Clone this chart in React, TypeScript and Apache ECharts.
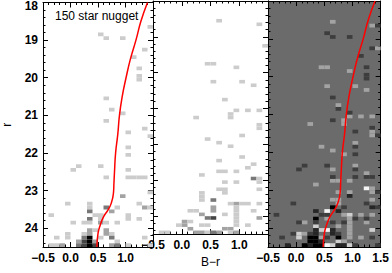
import React, { useEffect, useRef } from 'react';
import * as echarts from 'echarts';

// Axis ranges and ticks
const colorRange = [-0.5, 1.5];
const magRange = [18, 24.5];
const colorStep = 0.5;
const magStep = 1;
const colorBin = 0.1;
const magBin = 0.1;

const panelTitle = '150 star nugget';
const xTitle = 'B\u2212r';
const yTitle = 'r';

// Hess-diagram cells: [B−r bin start, r bin start, star count]
const nuggetCells: number[][] = [
  [0.5, 18.8, 1], [0.6, 18.9, 1], [0.9, 18.9, 1], [1.4, 18.6, 1], [1.3, 19.2, 1],
  [1.1, 19.4, 1], [1.2, 19.7, 1], [1.2, 19.9, 1], [1.2, 20.0, 1], [0.6, 20.5, 1],
  [0.7, 20.8, 1], [0.9, 20.9, 1], [0.6, 21.1, 1], [1.3, 21.3, 1], [1.0, 21.4, 1],
  [1.4, 21.5, 1], [1.0, 21.8, 1], [1.0, 22.0, 1], [0.1, 22.3, 1], [0.5, 22.3, 1],
  [0.0, 22.4, 1], [1.0, 22.4, 1],
  [0.6, 22.6, 1], [1.0, 22.6, 1], [1.1, 22.6, 1], [1.2, 22.6, 1], [1.3, 22.6, 1],
  [0.9, 23.1, 2], [1.4, 23.0, 1],
  [-0.1, 23.3, 1], [0.3, 23.3, 1], [1.2, 23.3, 1],
  [0.3, 23.4, 1], [0.6, 23.4, 3], [0.8, 23.4, 1], [1.3, 23.4, 2], [1.4, 23.4, 1],
  [0.3, 23.5, 3], [0.7, 23.5, 2],
  [-0.4, 23.6, 1], [0.4, 23.6, 1], [0.5, 23.6, 1], [1.0, 23.6, 1],
  [0.3, 23.7, 3], [0.5, 23.7, 1], [1.0, 23.7, 1], [1.2, 23.7, 1],
  [0.0, 23.8, 1], [0.2, 23.8, 1], [0.3, 23.8, 1], [0.5, 23.8, 2], [0.6, 23.8, 1], [0.8, 23.8, 1],
  [0.3, 24.0, 2], [0.4, 24.0, 1], [0.6, 24.0, 2],
  [-0.1, 24.1, 1], [0.2, 24.1, 1], [0.3, 24.1, 2], [0.6, 24.1, 2], [0.7, 24.1, 1],
  [-0.3, 24.2, 1], [-0.1, 24.2, 1], [0.2, 24.2, 3], [0.3, 24.2, 5], [0.5, 24.2, 1], [0.7, 24.2, 3], [1.3, 24.2, 1],
  [0.1, 24.3, 2], [0.2, 24.3, 4], [0.3, 24.3, 5], [0.4, 24.3, 2], [0.8, 24.3, 1],
  [-0.4, 24.4, 1], [-0.3, 24.4, 1], [-0.2, 24.4, 2], [0.1, 24.4, 3], [0.2, 24.4, 4], [0.3, 24.4, 5],
  [0.4, 24.4, 4], [0.7, 24.4, 2], [0.8, 24.4, 3], [1.0, 24.4, 1], [1.4, 24.4, 1],
];

const modelCells: number[][] = [
  [0.6, 18.5, 1], [1.3, 18.6, 1], [1.4, 19.2, 1], [0.4, 19.7, 1], [0.5, 19.7, 1],
  [0.9, 19.8, 1], [0.5, 20.2, 1], [1.0, 20.2, 1], [1.2, 20.3, 1], [0.7, 20.7, 1],
  [0.9, 21.0, 1], [1.1, 21.0, 1], [1.3, 21.0, 1], [0.2, 21.2, 1], [0.8, 21.1, 1],
  [0.8, 21.2, 1], [1.3, 21.4, 1], [1.3, 21.5, 1],
  [0.4, 21.8, 1], [1.0, 21.7, 1], [0.6, 21.9, 1], [0.8, 22.0, 1], [1.0, 22.3, 1],
  [0.6, 22.4, 1], [1.1, 22.6, 1], [1.2, 22.5, 1],
  [0.3, 22.8, 1], [0.6, 22.7, 1], [0.7, 22.7, 1], [0.9, 22.7, 1],
  [1.2, 22.9, 3], [1.3, 22.9, 1], [1.3, 23.0, 1], [0.7, 23.0, 1], [0.9, 23.0, 1],
  [0.6, 23.2, 1], [0.7, 23.2, 1], [1.3, 23.2, 1], [0.7, 23.3, 1],
  [0.3, 23.3, 1], [0.3, 23.4, 1], [0.3, 23.5, 1], [0.5, 23.5, 3],
  [0.8, 23.6, 1], [0.9, 23.6, 2], [1.0, 23.6, 1], [1.1, 23.6, 1], [1.3, 23.6, 1],
  [0.9, 23.7, 1], [0.5, 23.7, 2],
  [0.1, 23.8, 1], [0.2, 23.8, 1], [0.5, 23.8, 2], [0.9, 23.8, 1], [1.2, 23.8, 1],
  [0.3, 23.9, 2], [0.7, 23.9, 1], [0.9, 23.9, 1],
  [0.4, 24.0, 3], [0.5, 24.0, 4], [0.9, 24.0, 1], [1.3, 24.0, 2],
  [0.0, 24.1, 2], [0.1, 24.1, 1], [0.9, 24.1, 1],
  [-0.1, 24.2, 1], [0.0, 24.2, 2], [0.3, 24.2, 1], [0.4, 24.2, 1], [0.9, 24.2, 1], [1.1, 24.2, 1],
  [0.1, 24.3, 2], [0.7, 24.3, 2], [0.8, 24.3, 2],
  [-0.4, 24.4, 1], [-0.3, 24.4, 1], [0.2, 24.4, 2], [0.3, 24.4, 2], [0.4, 24.4, 1],
  [0.5, 24.4, 3], [0.6, 24.4, 2], [0.8, 24.4, 1], [0.9, 24.4, 2],
];

// Isochrone track: [B−r, r]
const isochrone: number[][] = [
  [1.40, 18.0], [1.28, 18.5], [1.19, 19.0], [1.09, 19.5], [1.01, 20.0], [0.94, 20.5],
  [0.89, 21.0], [0.86, 21.5], [0.82, 22.0], [0.80, 22.5], [0.79, 22.8], [0.78, 23.08],
  [0.74, 23.34], [0.68, 23.52], [0.60, 23.70], [0.54, 23.92], [0.50, 24.14], [0.48, 24.5],
];

// Residual panel = model − nugget
const key = (c: number, m: number) => `${Math.round(c * 10)}|${Math.round(m * 10)}`;
function residualCells(): number[][] {
  const map = new Map<string, number[]>();
  modelCells.forEach(([c, m, v]) => map.set(key(c, m), [c, m, v]));
  nuggetCells.forEach(([c, m, v]) => {
    const k = key(c, m);
    const e = map.get(k);
    if (e) e[2] -= v;
    else map.set(k, [c, m, -v]);
  });
  return Array.from(map.values()).filter((d) => d[2] !== 0);
}

const countGray = ['#ffffff', '#cccccc', '#a3a3a3', '#787878', '#444444', '#000000'];
const countColor = (v: number) => countGray[Math.max(0, Math.min(5, Math.round(v)))];
const residColor = (v: number) => {
  if (v <= -3) return '#000000';
  if (v === -2) return '#262626';
  if (v === -1) return '#3d3d3d';
  if (v === 1) return '#a3a3a3';
  if (v === 2) return '#cfcfcf';
  return '#f5f5f5';
};

const FONT = 'Liberation Sans, Arial, Helvetica, sans-serif';

const cellRenderer = (colorFn: (v: number) => string) => (params: any, api: any) => {
  const c = api.value(0);
  const m = api.value(1);
  const v = api.value(2);
  const p0 = api.coord([c, m]);
  const p1 = api.coord([c + colorBin, m + magBin]);
  return {
    type: 'rect',
    shape: {
      x: Math.min(p0[0], p1[0]),
      y: Math.min(p0[1], p1[1]),
      width: Math.abs(p1[0] - p0[0]),
      height: Math.abs(p1[1] - p0[1]),
    },
    style: { fill: colorFn(v) },
  };
};

const fmtColor = (v: number) => (v < 0 ? '\u2212' : '') + Math.abs(v).toFixed(1);

export default function App() {
  const ref = useRef<HTMLDivElement>(null);
  useEffect(() => {
    document.body.style.margin = '0';
    if (!ref.current) return;
    const chart = echarts.init(ref.current, null, { renderer: 'svg' });

    const grids = [
      { left: 37, top: 1, width: 116, height: 246 },
      { left: 153, top: 1, width: 115, height: 246 },
      { left: 268, top: 1, width: 115, height: 246, show: true, backgroundColor: '#6b6b6b', borderWidth: 0 },
    ];

    const tickCommon = {
      axisLine: { show: true, onZero: false, lineStyle: { color: '#000', width: 1 } },
      axisTick: { show: true, inside: true, length: 5, lineStyle: { color: '#000', width: 1 } },
      minorTick: { show: true, splitNumber: 5, length: 2.5, lineStyle: { color: '#000', width: 1 } },
      splitLine: { show: false },
      minorSplitLine: { show: false },
    };

    const xAxes: any[] = [];
    const yAxes: any[] = [];
    for (let g = 0; g < 3; g++) {
      xAxes.push({
        type: 'value', gridIndex: g, position: 'bottom',
        min: colorRange[0], max: colorRange[1], interval: colorStep,
        ...tickCommon,
        name: g === 1 ? xTitle : '',
        nameLocation: 'middle', nameGap: 15,
        nameTextStyle: { fontFamily: FONT, fontSize: 12, color: '#000', verticalAlign: 'top' },
        axisLabel: {
          show: true, margin: 5, fontFamily: FONT, fontSize: 12, fontWeight: 'bold', color: '#000',
          showMinLabel: true, showMaxLabel: true,
          formatter: (v: number) => (g < 2 && v === colorRange[1] ? '' : fmtColor(v)),
        },
      });
    }
    for (let g = 0; g < 3; g++) {
      xAxes.push({
        type: 'value', gridIndex: g, position: 'top',
        min: colorRange[0], max: colorRange[1], interval: colorStep,
        ...tickCommon,
        axisLabel: { show: false },
      });
    }
    for (let g = 0; g < 3; g++) {
      yAxes.push({
        type: 'value', gridIndex: g, position: 'left', inverse: true,
        min: magRange[0], max: magRange[1], interval: magStep,
        ...tickCommon,
        name: g === 0 ? yTitle : '',
        nameLocation: 'middle', nameGap: 30, nameRotate: 90,
        nameTextStyle: { fontFamily: FONT, fontSize: 12, color: '#000' },
        axisLabel: {
          show: g === 0, margin: 5, fontFamily: FONT, fontSize: 12, fontWeight: 'bold', color: '#000',
          showMinLabel: true, showMaxLabel: true,
          formatter: (v: number) =>
            v === magRange[0] ? `{first|${v}}` : Number.isInteger(v) ? String(v) : '',
          rich: {
            first: { padding: [7, 0, 0, 0], fontFamily: FONT, fontSize: 12, fontWeight: 'bold', color: '#000' },
          },
        },
      });
    }
    for (let g = 0; g < 3; g++) {
      yAxes.push({
        type: 'value', gridIndex: g, position: 'right', inverse: true,
        min: magRange[0], max: magRange[1], interval: magStep,
        ...tickCommon,
        axisLabel: { show: false },
      });
    }

    const lineSeries = (g: number) => ({
      type: 'line', xAxisIndex: g, yAxisIndex: g, data: isochrone,
      showSymbol: false, smooth: true, clip: true, silent: true, z: 5,
      lineStyle: { color: '#ff0000', width: 1.5 },
    });

    chart.setOption({
      animation: false,
      textStyle: { fontFamily: FONT },
      grid: grids,
      xAxis: xAxes,
      yAxis: yAxes,
      graphic: [
        {
          type: 'text', left: 55, top: 10, z: 10,
          style: { text: panelTitle, fontFamily: FONT, fontSize: 12, fill: '#000' },
        },
      ],
      series: [
        { type: 'custom', xAxisIndex: 0, yAxisIndex: 0, data: nuggetCells, encode: { x: 0, y: 1 },
          renderItem: cellRenderer(countColor), clip: true, silent: true },
        { type: 'custom', xAxisIndex: 1, yAxisIndex: 1, data: modelCells, encode: { x: 0, y: 1 },
          renderItem: cellRenderer(countColor), clip: true, silent: true },
        { type: 'custom', xAxisIndex: 2, yAxisIndex: 2, data: residualCells(), encode: { x: 0, y: 1 },
          renderItem: cellRenderer(residColor), clip: true, silent: true },
        lineSeries(0),
        lineSeries(2),
      ],
    });
    return () => chart.dispose();
  }, []);
  return <div ref={ref} style={{ position: 'absolute', left: 0, top: 0, width: 392, height: 273 }} />;
}
